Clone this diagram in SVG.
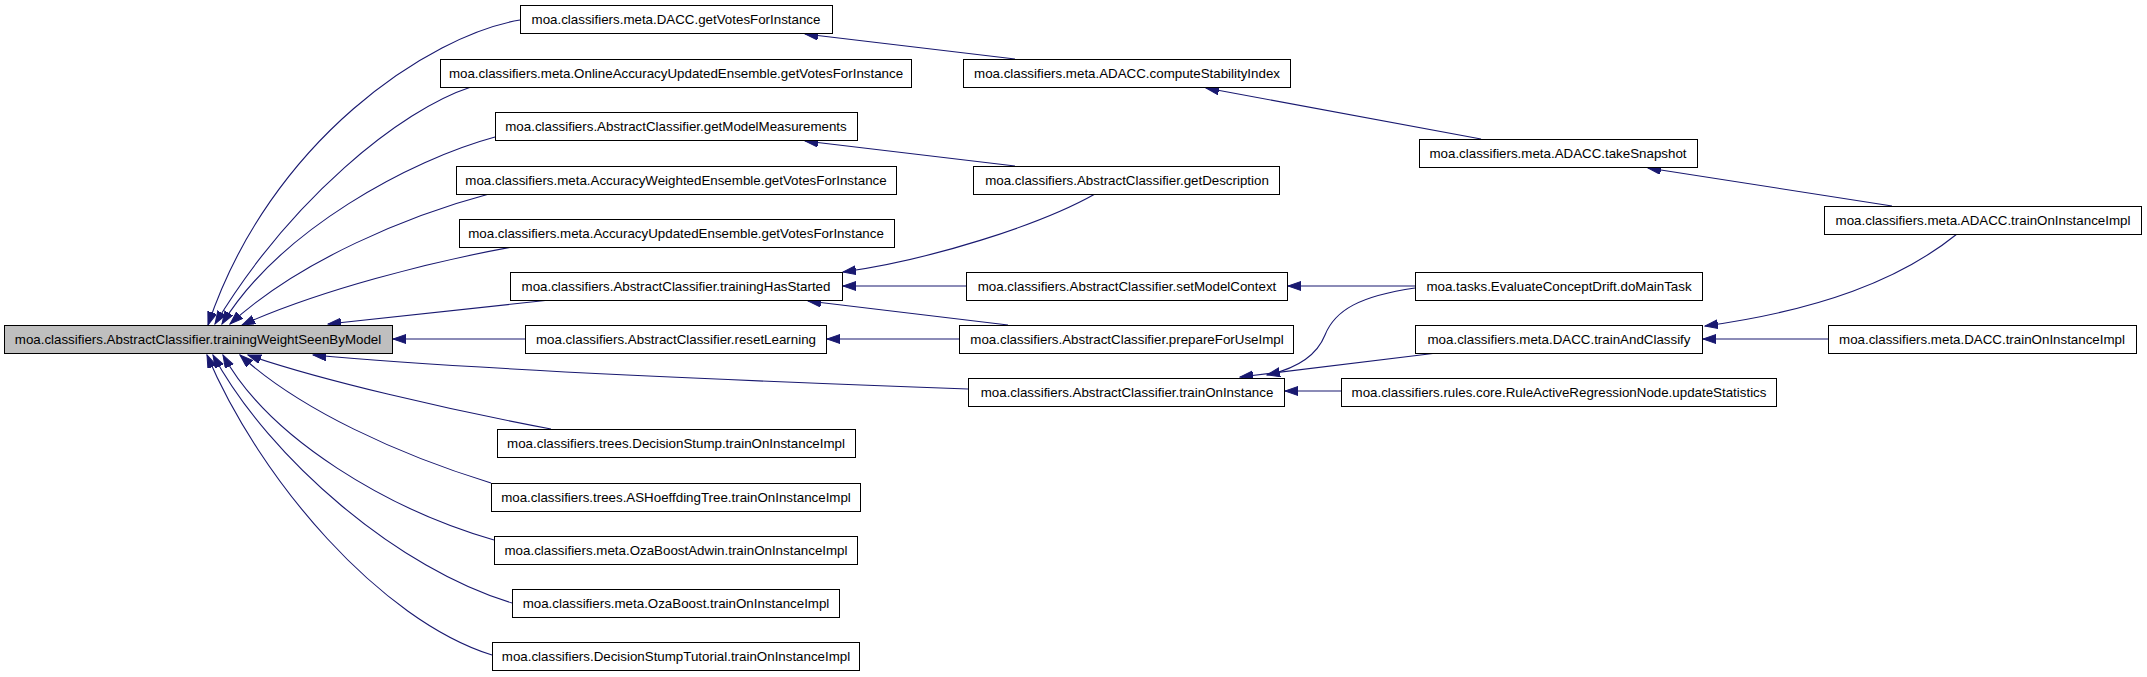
<svg xmlns="http://www.w3.org/2000/svg" width="2147" height="677" viewBox="0 0 2147 677">
<style>
.node rect{fill:#ffffff;stroke:#000000;stroke-width:1}
.node.main rect{fill:#bfbfbf}
.node text{font-family:"Liberation Sans",Arial,Helvetica,sans-serif;font-size:13.33px;text-anchor:middle;fill:#000}
.edge{fill:none;stroke:#191970;stroke-width:1.1;marker-end:url(#arr)}
</style>
<defs>
<marker id="arr" markerUnits="userSpaceOnUse" markerWidth="14" markerHeight="10" refX="13" refY="4.5" orient="auto">
<path d="M0,0 L13,4.5 L0,9 z" fill="#191970" stroke="#191970" stroke-width="1"/>
</marker>
</defs>
<rect width="2147" height="677" fill="#ffffff"/>
<g id="edges">
<path class="edge" d="M520,20 C430,35 270,140 208,325"/>
<path class="edge" d="M471,87 C400,110 290,200 215,324"/>
<path class="edge" d="M495,137 C410,160 280,230 222,324"/>
<path class="edge" d="M489,194 C410,215 300,260 230,324"/>
<path class="edge" d="M512,247 C430,262 320,290 242,325"/>
<path class="edge" d="M550,300 L328,324"/>
<path class="edge" d="M525,339 L393,339"/>
<path class="edge" d="M968,389 C800,383 500,372 313,355"/>
<path class="edge" d="M551,429 C450,410 320,380 248,355"/>
<path class="edge" d="M491,483 C400,455 300,410 240,355"/>
<path class="edge" d="M494,540 C390,510 270,440 223,355"/>
<path class="edge" d="M512,603 C400,570 270,460 213,355"/>
<path class="edge" d="M492,655 C380,620 260,480 207,355"/>
<path class="edge" d="M1015,59 L805,34"/>
<path class="edge" d="M1015,166 L805,141"/>
<path class="edge" d="M1095,194 C1040,225 930,260 843,272"/>
<path class="edge" d="M966,286 L843,286"/>
<path class="edge" d="M1008,325 L808,301"/>
<path class="edge" d="M959,339 L827,339"/>
<path class="edge" d="M1481,139 L1206,88"/>
<path class="edge" d="M1892,206 L1648,168"/>
<path class="edge" d="M1415,286 L1288,286"/>
<path class="edge" d="M1415,288 C1360,296 1335,310 1325,335 C1315,360 1290,370 1267,375"/>
<path class="edge" d="M1437,353 L1240,377"/>
<path class="edge" d="M1341,391 L1285,391"/>
<path class="edge" d="M1957,234 C1900,280 1820,310 1705,326"/>
<path class="edge" d="M1828,339 L1703,339"/>
</g>
<g id="n0" class="node main"><rect x="4.5" y="325.5" width="388" height="28"/><text x="198" y="344">moa.classifiers.AbstractClassifier.trainingWeightSeenByModel</text></g>
<g id="n1" class="node"><rect x="520.5" y="5.5" width="312" height="28"/><text x="676" y="24">moa.classifiers.meta.DACC.getVotesForInstance</text></g>
<g id="n2" class="node"><rect x="440.5" y="59.5" width="471" height="28"/><text x="676" y="78">moa.classifiers.meta.OnlineAccuracyUpdatedEnsemble.getVotesForInstance</text></g>
<g id="n3" class="node"><rect x="495.5" y="112.5" width="362" height="28"/><text x="676" y="131">moa.classifiers.AbstractClassifier.getModelMeasurements</text></g>
<g id="n4" class="node"><rect x="456.5" y="166.5" width="440" height="28"/><text x="676" y="185">moa.classifiers.meta.AccuracyWeightedEnsemble.getVotesForInstance</text></g>
<g id="n5" class="node"><rect x="459.5" y="219.5" width="435" height="28"/><text x="676" y="238">moa.classifiers.meta.AccuracyUpdatedEnsemble.getVotesForInstance</text></g>
<g id="n6" class="node"><rect x="510.5" y="272.5" width="332" height="28"/><text x="676" y="291">moa.classifiers.AbstractClassifier.trainingHasStarted</text></g>
<g id="n7" class="node"><rect x="525.5" y="325.5" width="301" height="28"/><text x="676" y="344">moa.classifiers.AbstractClassifier.resetLearning</text></g>
<g id="n8" class="node"><rect x="497.5" y="429.5" width="358" height="28"/><text x="676" y="448">moa.classifiers.trees.DecisionStump.trainOnInstanceImpl</text></g>
<g id="n9" class="node"><rect x="491.5" y="483.5" width="369" height="28"/><text x="676" y="502">moa.classifiers.trees.ASHoeffdingTree.trainOnInstanceImpl</text></g>
<g id="n10" class="node"><rect x="494.5" y="536.5" width="363" height="28"/><text x="676" y="555">moa.classifiers.meta.OzaBoostAdwin.trainOnInstanceImpl</text></g>
<g id="n11" class="node"><rect x="512.5" y="589.5" width="327" height="28"/><text x="676" y="608">moa.classifiers.meta.OzaBoost.trainOnInstanceImpl</text></g>
<g id="n12" class="node"><rect x="492.5" y="642.5" width="367" height="28"/><text x="676" y="661">moa.classifiers.DecisionStumpTutorial.trainOnInstanceImpl</text></g>
<g id="n13" class="node"><rect x="963.5" y="59.5" width="327" height="28"/><text x="1127" y="78">moa.classifiers.meta.ADACC.computeStabilityIndex</text></g>
<g id="n14" class="node"><rect x="973.5" y="166.5" width="306" height="28"/><text x="1127" y="185">moa.classifiers.AbstractClassifier.getDescription</text></g>
<g id="n15" class="node"><rect x="966.5" y="272.5" width="321" height="28"/><text x="1127" y="291">moa.classifiers.AbstractClassifier.setModelContext</text></g>
<g id="n16" class="node"><rect x="959.5" y="325.5" width="334" height="28"/><text x="1127" y="344">moa.classifiers.AbstractClassifier.prepareForUseImpl</text></g>
<g id="n17" class="node"><rect x="968.5" y="378.5" width="316" height="28"/><text x="1127" y="397">moa.classifiers.AbstractClassifier.trainOnInstance</text></g>
<g id="n18" class="node"><rect x="1419.5" y="139.5" width="278" height="28"/><text x="1558" y="158">moa.classifiers.meta.ADACC.takeSnapshot</text></g>
<g id="n19" class="node"><rect x="1415.5" y="272.5" width="287" height="28"/><text x="1559" y="291">moa.tasks.EvaluateConceptDrift.doMainTask</text></g>
<g id="n20" class="node"><rect x="1415.5" y="325.5" width="287" height="28"/><text x="1559" y="344">moa.classifiers.meta.DACC.trainAndClassify</text></g>
<g id="n21" class="node"><rect x="1341.5" y="378.5" width="435" height="28"/><text x="1559" y="397">moa.classifiers.rules.core.RuleActiveRegressionNode.updateStatistics</text></g>
<g id="n22" class="node"><rect x="1824.5" y="206.5" width="317" height="28"/><text x="1983" y="225">moa.classifiers.meta.ADACC.trainOnInstanceImpl</text></g>
<g id="n23" class="node"><rect x="1828.5" y="325.5" width="308" height="28"/><text x="1982" y="344">moa.classifiers.meta.DACC.trainOnInstanceImpl</text></g>
</svg>
